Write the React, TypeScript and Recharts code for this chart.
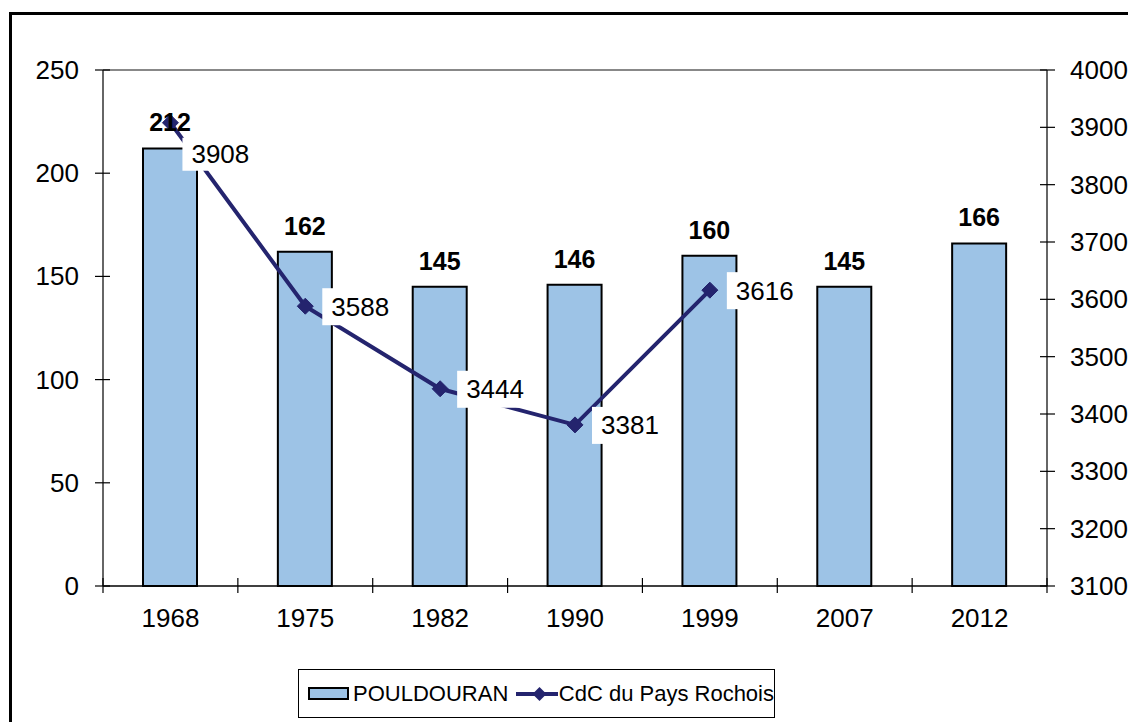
import React from 'react';
import { ComposedChart, Bar, Line, XAxis, YAxis, LabelList, ReferenceLine } from 'recharts';

const CATEGORIES = ['1968', '1975', '1982', '1990', '1999', '2007', '2012'];
const POULDOURAN = [212, 162, 145, 146, 160, 145, 166];
const CDC = [3908, 3588, 3444, 3381, 3616, null, null];
const LEFT_TICKS = [0, 50, 100, 150, 200, 250];
const RIGHT_TICKS = [3100, 3200, 3300, 3400, 3500, 3600, 3700, 3800, 3900, 4000];
const SERIES_NAMES = ['POULDOURAN', 'CdC du Pays Rochois'];

const data = CATEGORIES.map((c, i) => ({ year: c, pould: POULDOURAN[i], cdc: CDC[i] }));

const W = 1128;
const H = 722;
const LEFT_W = 103;
const RIGHT_W = 81;
const FONT = "'Liberation Sans', Arial, Helvetica, sans-serif";
const BAR_FILL = '#9DC3E6';
const LINE_COLOR = '#24246E';
const HALF_BAND = (W - LEFT_W - RIGHT_W) / CATEGORIES.length / 2;

const XTick = (props: any) => {
  const { x, y, payload, index } = props;
  const half = payload && typeof payload.offset === 'number' && payload.offset > 0 ? payload.offset : HALF_BAND;
  return (
    <g>
      <text x={x} y={y + 41} textAnchor="middle" fontSize={26} fontFamily={FONT} fill="#000">
        {payload.value}
      </text>
      <line x1={x + half} x2={x + half} y1={y - 8} y2={y + 7} stroke="#000" strokeWidth={1.2} />
      {index === 0 && <line x1={x - half} x2={x - half} y1={y - 8} y2={y + 7} stroke="#000" strokeWidth={1.2} />}
    </g>
  );
};

const LeftTick = (props: any) => {
  const { x, y, payload } = props;
  return (
    <g>
      <line x1={x - 8} x2={x + 7} y1={y} y2={y} stroke="#000" strokeWidth={1.2} />
      <text x={x - 24} y={y + 9} textAnchor="end" fontSize={26} fontFamily={FONT} fill="#000">
        {payload.value}
      </text>
    </g>
  );
};

const RightTick = (props: any) => {
  const { x, y, payload } = props;
  return (
    <g>
      <line x1={x - 7} x2={x + 8} y1={y} y2={y} stroke="#000" strokeWidth={1.2} />
      <text x={x + 23} y={y + 9} textAnchor="start" fontSize={26} fontFamily={FONT} fill="#000">
        {payload.value}
      </text>
    </g>
  );
};

const Diamond = (props: any) => {
  const { cx, cy, value } = props;
  if (value == null || cx == null || cy == null) return null;
  const s = 8;
  return (
    <polygon
      points={`${cx},${cy - s} ${cx + s},${cy} ${cx},${cy + s} ${cx - s},${cy}`}
      fill={LINE_COLOR}
      stroke={LINE_COLOR}
      strokeWidth={1}
    />
  );
};

const LineLabel = (props: any) => {
  const { x, y, value, index } = props;
  if (value == null) return null;
  const first = index === 0;
  const bx = first ? x + 12 : x + 17;
  const by = first ? y + 15 : y - 18;
  const bh = first ? 33 : 37;
  return (
    <g>
      <rect x={bx} y={by} width={68} height={bh} fill="#fff" />
      <text x={bx + 9} y={by + bh / 2 + 9} fontSize={26} fontFamily={FONT} fill="#000">
        {value}
      </text>
    </g>
  );
};

const BarLabel = (props: any) => {
  const { x, y, width, value } = props;
  return (
    <text x={x + width / 2} y={y - 17} textAnchor="middle" fontSize={25} fontWeight="bold" fontFamily={FONT} fill="#000">
      {value}
    </text>
  );
};

const LegendBox = () => (
  <div
    style={{
      position: 'absolute',
      left: 298,
      top: 669,
      width: 477,
      height: 49,
      border: '1px solid #000',
      boxSizing: 'border-box',
      background: '#fff',
      display: 'flex',
      alignItems: 'center',
      fontFamily: FONT,
      fontSize: 22,
      color: '#000',
      whiteSpace: 'nowrap',
    }}
  >
    <div
      style={{
        marginLeft: 9,
        width: 46,
        height: 13,
        border: '2px solid #000',
        boxSizing: 'border-box',
        background: BAR_FILL,
      }}
    />
    <span style={{ marginLeft: 4 }}>{SERIES_NAMES[0]}</span>
    <svg width={47} height={20} style={{ marginLeft: 8, display: 'block' }}>
      <line x1={0} x2={47} y1={10} y2={10} stroke={LINE_COLOR} strokeWidth={4} />
      <polygon points="23.5,3 30.5,10 23.5,17 16.5,10" fill={LINE_COLOR} />
    </svg>
    <span style={{ marginLeft: 1 }}>{SERIES_NAMES[1]}</span>
  </div>
);

export default function App() {
  return (
    <div style={{ position: 'absolute', left: 0, top: 0, width: W, height: H, overflow: 'hidden', background: '#fff' }}>
      <div
        style={{
          position: 'absolute',
          left: 9,
          top: 12,
          width: 1300,
          height: 900,
          border: '3px solid #000',
          boxSizing: 'border-box',
        }}
      />
      <div style={{ position: 'absolute', left: 0, top: 0 }}>
        <ComposedChart width={W} height={H} data={data} margin={{ top: 70, right: 0, bottom: 86, left: 0 }}>
          <XAxis
            dataKey="year"
            height={50}
            axisLine={{ stroke: '#000', strokeWidth: 1.5 }}
            tickLine={false}
            tickSize={0}
            tickMargin={0}
            tick={<XTick />}
            interval={0}
          />
          <YAxis
            yAxisId="left"
            orientation="left"
            width={LEFT_W}
            domain={[0, 250]}
            ticks={LEFT_TICKS}
            axisLine={{ stroke: '#333', strokeWidth: 1.5 }}
            tickLine={false}
            tickSize={0}
            tickMargin={0}
            tick={<LeftTick />}
            interval={0}
          />
          <YAxis
            yAxisId="right"
            orientation="right"
            width={RIGHT_W}
            domain={[3100, 4000]}
            ticks={RIGHT_TICKS}
            axisLine={{ stroke: '#333', strokeWidth: 1.5 }}
            tickLine={false}
            tickSize={0}
            tickMargin={0}
            tick={<RightTick />}
            interval={0}
          />
          <ReferenceLine yAxisId="left" y={250} stroke="#888" strokeWidth={2} />
          <Bar
            yAxisId="left"
            dataKey="pould"
            name={SERIES_NAMES[0]}
            fill={BAR_FILL}
            stroke="#000"
            strokeWidth={2}
            barSize={54}
            isAnimationActive={false}
          >
            <LabelList dataKey="pould" content={<BarLabel />} />
          </Bar>
          <Line
            yAxisId="right"
            dataKey="cdc"
            name={SERIES_NAMES[1]}
            stroke={LINE_COLOR}
            strokeWidth={4}
            dot={<Diamond />}
            activeDot={false}
            connectNulls={false}
            isAnimationActive={false}
          >
            <LabelList dataKey="cdc" content={<LineLabel />} />
          </Line>
        </ComposedChart>
      </div>
      <LegendBox />
    </div>
  );
}
